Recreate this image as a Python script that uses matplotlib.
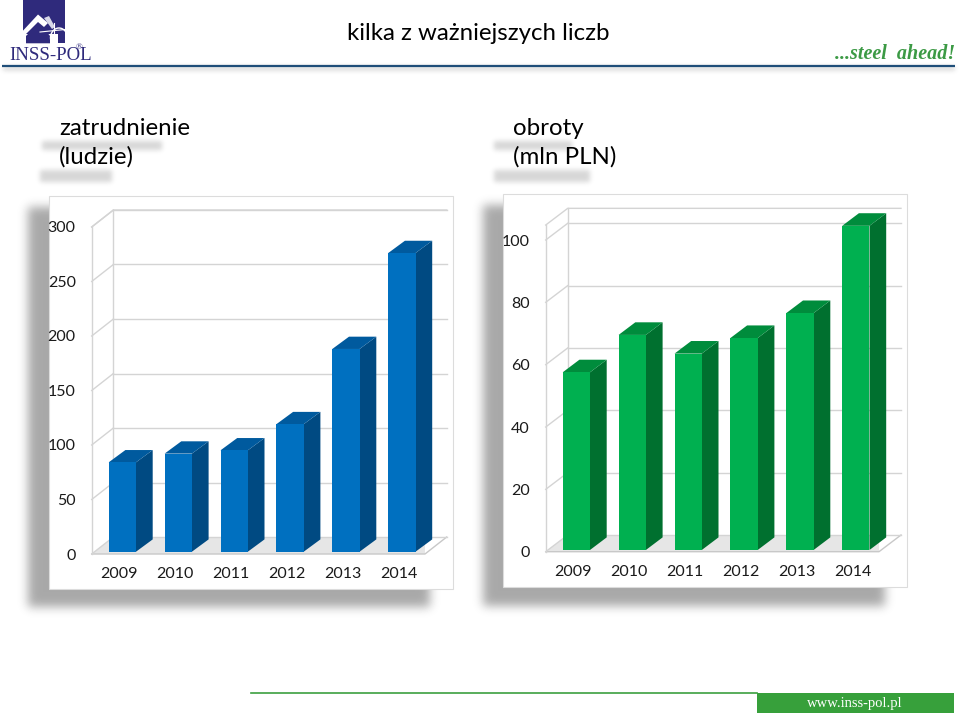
import numpy as np
import matplotlib
matplotlib.use("Agg")
import matplotlib.pyplot as plt
from matplotlib.patches import Rectangle, Polygon, Arc

W, H = 960, 716
FONT = "Lato"

years = ["2009", "2010", "2011", "2012", "2013", "2014"]
staff = [82, 90, 93, 117, 186, 274]
staff_ticks = [0, 50, 100, 150, 200, 250, 300]
turnover = [57, 69, 63, 68, 76, 104]
turnover_ticks = [0, 20, 40, 60, 80, 100]

plt.rcParams["font.family"] = [FONT, "DejaVu Sans"]


def blur(a, sigma):
    r = int(sigma * 3)
    k = np.exp(-0.5 * (np.arange(-r, r + 1) / sigma) ** 2)
    k /= k.sum()
    a = np.apply_along_axis(lambda m: np.convolve(m, k, mode="same"), 0, a)
    return np.apply_along_axis(lambda m: np.convolve(m, k, mode="same"), 1, a)


def shadow_layer():
    big = np.zeros((H, W))
    big[207:607, 28:430] = 0.34
    big[205:606, 483:885] = 0.34
    big = blur(big, 5)
    soft = np.zeros((H, W))
    soft[141:150, 42:162] = 0.16
    soft[170:182, 40:112] = 0.16
    soft[141:150, 494:572] = 0.16
    soft[170:182, 494:590] = 0.16
    soft[67:70, 3:955] = 0.22
    soft = blur(soft, 2.5)
    return 1 - np.clip(big + soft, 0, 1)


def draw_chart(fig, box, values, ticks, ymax, base, colors, back, depth):
    x0, x1, y0, scale, label_y = box
    dx_px, dy_px = back
    bar_dx_px, bar_dy_px = depth
    step = 55.9
    first = x0 + 30.65
    top_px = y0 - ymax * scale
    ax = fig.add_axes([x0 / W, 1 - y0 / H, (x1 - x0) / W, (y0 - top_px) / H])
    ax.set_xlim((x0 - first) / step, (x1 - first) / step)
    ax.set_ylim(0, ymax)
    ax.patch.set_alpha(0)
    for s in ax.spines.values():
        s.set_visible(False)

    dx, dy = dx_px / step, dy_px / scale
    grid = "#d4d4d4"
    xl, xr = ax.get_xlim()
    right_end = xr + dx

    # floor and walls
    ax.fill([xl, xr, right_end, xl + dx], [0, 0, dy, dy], color="#e6e6e6", zorder=1, lw=0)
    ax.plot([xl, xr, right_end], [0, 0, dy], color="#c8c8c8", lw=1, zorder=2, clip_on=False)
    ax.plot([xl, xl], [0, ymax], color=grid, lw=1, zorder=2, clip_on=False)
    ax.plot([xl + dx, xl + dx], [dy, ymax + dy], color=grid, lw=1, zorder=2, clip_on=False)
    for t in ticks:
        ax.plot([xl, xl + dx], [t, t + dy], color=grid, lw=1, zorder=2, clip_on=False)
        ax.plot([xl + dx, right_end], [t + dy, t + dy], color=grid, lw=1, zorder=2, clip_on=False)
    ax.plot([xl, xl + dx, right_end], [ymax, ymax + dy, ymax + dy], color=grid, lw=1, zorder=2, clip_on=False)

    # bars, the two extra faces come from the same values
    front, side, roof = colors
    w = 27.3 / step
    bx, by = bar_dx_px / step, bar_dy_px / scale
    for i, v in enumerate(values):
        r = i + w / 2
        l = i - w / 2
        top = base + v
        ax.add_patch(Polygon([(r, base), (r + bx, base + by), (r + bx, top + by), (r, top)],
                             fc=side, ec="none", zorder=3, clip_on=False))
        ax.add_patch(Polygon([(l, top), (r, top), (r + bx, top + by), (l + bx, top + by)],
                             fc=roof, ec="none", zorder=3, clip_on=False))
    ax.bar(range(len(values)), values, width=w, bottom=base, color=front, zorder=4, clip_on=False)

    ax.set_xticks([i - 3 / step for i in range(len(years))], years)
    ax.set_yticks(ticks)
    ax.tick_params(axis="both", length=0, labelsize=11.5, labelcolor="#1a1a1a")
    ax.tick_params(axis="y", pad=11.5)
    ax.tick_params(axis="x", pad=(label_y - y0 - 8) * 0.72)


def draw_logo(bg):
    bg.add_patch(Rectangle((22.7, 0), 42.6, 43.3, fc="#2f2a7c", ec="none", zorder=3))
    bg.add_patch(Polygon([(22.7, 31), (38, 14.5), (48, 23), (44, 27), (38, 22), (26, 34), (58, 34),
                          (58, 43.3), (22.7, 43.3)], fc="white", ec="none", zorder=4))
    bg.add_patch(Polygon([(26, 36), (38, 24), (46, 31), (50, 36), (50, 43.3), (26, 43.3)],
                         fc="#2f2a7c", ec="none", zorder=5))
    bg.add_patch(Polygon([(44, 18), (49, 16), (55, 27), (52, 29)], fc="#d8d8e8", ec="none", zorder=4))
    bg.add_patch(Arc((59, 38), 17, 20, theta1=170, theta2=360, ec="white", lw=1, zorder=6))
    bg.plot([40, 65], [32, 29.5], color="white", lw=0.8, zorder=6)
    bg.plot([54, 54], [23, 43], color="white", lw=0.8, zorder=6)
    bg.text(9, 55.5, "INSS-POL", family="Liberation Serif", fontsize=13.6, color="#2f2a7c",
            va="center", ha="left", zorder=6)
    bg.text(79.5, 47, "®", family="Liberation Serif", fontsize=6.5, color="#2f2a7c",
            va="center", ha="center", zorder=6)


fig = plt.figure(figsize=(W / 100, H / 100), dpi=100)
bg = fig.add_axes([0, 0, 1, 1])
bg.imshow(shadow_layer(), cmap="gray", vmin=0, vmax=1, extent=(0, W, H, 0), aspect="auto", zorder=0)
bg.set_xlim(0, W)
bg.set_ylim(H, 0)
bg.axis("off")

# white panels sitting on the shadows
for x, y, pw, ph in [(48.5, 195.5, 404, 393.5), (503, 193.5, 404, 393.5)]:
    bg.add_patch(Rectangle((x, y), pw, ph, fc="white", ec="#dcdcdc", lw=0.8, zorder=1))

bg.plot([2, 955], [65.8, 65.8], color="#1f4e79", lw=1.6, zorder=2, solid_capstyle="butt")
draw_logo(bg)

bg.text(478, 34, "kilka z ważniejszych liczb", fontsize=17.3, color="black", ha="center", va="center")
bg.text(59, 135, "zatrudnienie", fontsize=17.3, color="black", ha="left", va="baseline")
bg.text(59, 164, "(ludzie)", fontsize=17.3, color="black", ha="left", va="baseline")
bg.text(513, 135, "obroty", fontsize=17.3, color="black", ha="left", va="baseline")
bg.text(513, 164, "(mln PLN)", fontsize=17.3, color="black", ha="left", va="baseline")
bg.text(835, 54, "...steel  ahead!", family="Liberation Serif", style="italic", weight="bold",
        fontsize=14.5, color="#3c9a45", ha="left", va="center")

# footer
bg.plot([251, 757], [692.5, 692.5], color="#3c9f3f", lw=1.2, zorder=2)
bg.add_patch(Rectangle((757, 693), 197, 20, fc="#37a03b", ec="none", zorder=2))
bg.text(855, 703, "www.inss-pol.pl", family="Liberation Serif", fontsize=10.5, color="white",
        ha="center", va="center", zorder=3)

draw_chart(fig, (91.7, 425, 554, 1.09, 575.5), staff, staff_ticks, 300, 2.1,
           ("#0070c0", "#004a82", "#005a9e"), (21.7, 17), (16.7, 12.3))
draw_chart(fig, (545.7, 879, 551.7, 3.117, 573.3), turnover, turnover_ticks, 104.8, 0.55,
           ("#00b050", "#00702f", "#008c3c"), (22, 16.7), (16.7, 12.6))

fig.savefig("out.png", dpi=100)
plt.close(fig)
